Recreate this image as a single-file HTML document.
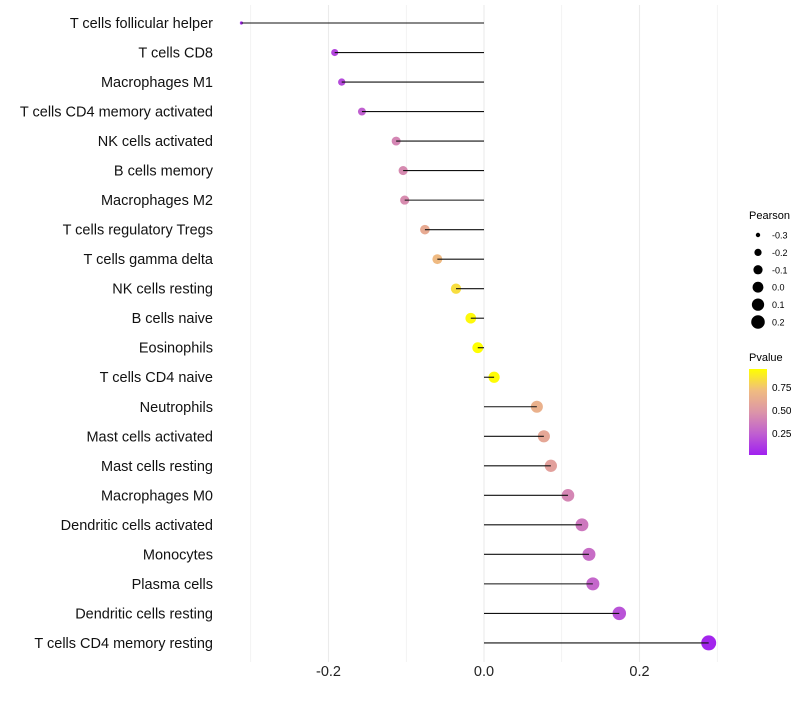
<!DOCTYPE html>
<html><head><meta charset="utf-8"><style>
body{margin:0;background:#fff;font-family:"Liberation Sans",Arial,sans-serif}
</style></head><body>
<svg id="chart" width="800" height="700" xmlns="http://www.w3.org/2000/svg">
<defs><linearGradient id="pg" x1="0" y1="1" x2="0" y2="0">
<stop offset="0" stop-color="#A020F0"/><stop offset="0.25" stop-color="#C060D0"/><stop offset="0.5" stop-color="#DC95A8"/><stop offset="0.75" stop-color="#F0BC80"/><stop offset="1" stop-color="#FFFF00"/></linearGradient></defs>
<g id="grid"></g><g id="dots"></g><g id="marks"></g><g id="labels"></g>
<g font-size="10">
<text x="749" y="219" font-size="11">Pearson</text>
<g id="sizeleg"></g>
</g>
<g font-size="10">
<text x="749" y="361" font-size="11">Pvalue</text>
<rect x="749" y="369" width="18" height="86" fill="url(#pg)"/>
<text x="772" y="391">0.75</text><text x="772" y="414">0.50</text><text x="772" y="437">0.25</text>
</g>
</svg>
<script>
const categories=["T cells follicular helper","T cells CD8","Macrophages M1","T cells CD4 memory activated","NK cells activated","B cells memory","Macrophages M2","T cells regulatory  Tregs ","T cells gamma delta","NK cells resting","B cells naive","Eosinophils","T cells CD4 naive","Neutrophils","Mast cells activated","Mast cells resting","Macrophages M0","Dendritic cells activated","Monocytes","Plasma cells","Dendritic cells resting","T cells CD4 memory resting"];
const pearson=[-0.312,-0.192,-0.183,-0.157,-0.113,-0.104,-0.102,-0.076,-0.060,-0.036,-0.017,-0.008,0.013,0.068,0.077,0.086,0.108,0.126,0.135,0.140,0.174,0.289];
const pvalue=[0.05,0.15,0.17,0.25,0.42,0.44,0.45,0.62,0.72,0.85,0.95,0.98,0.96,0.66,0.60,0.56,0.42,0.36,0.31,0.28,0.20,0.03];
const xTicks=[-0.2,0,0.2];
const xTickLabels=["-0.2","0.0","0.2"];
const sizeLegendVals=[-0.3,-0.2,-0.1,0.0,0.1,0.2];
const NS="http://www.w3.org/2000/svg";
const x=v=>484+v*777.5;
const y=i=>23+i*29.52;
const r=v=>Math.sqrt(Math.max(2.5,30+90*v));
const rl=v=>Math.sqrt(Math.max(1,24.4+68*v));
const stops=[[0,[160,32,240]],[0.25,[192,96,208]],[0.5,[220,149,168]],[0.75,[240,188,128]],[1,[255,255,0]]];
function col(p){p=(p-0.01)/0.96;p=Math.max(0,Math.min(1,p));for(let k=1;k<stops.length;k++){if(p<=stops[k][0]){const a=stops[k-1],b=stops[k],t=(p-a[0])/(b[0]-a[0]);return"rgb("+a[1].map((c,j)=>Math.round(c+(b[1][j]-c)*t)).join(",")+")";}}return"rgb(255,255,0)";}
function mk(t,a,parent){const e=document.createElementNS(NS,t);for(const k in a)e.setAttribute(k,a[k]);parent.appendChild(e);return e;}
const grid=document.getElementById('grid');
for(let v=-0.3;v<=0.31;v+=0.1){const g=mk('line',{x1:x(v),x2:x(v),y1:5,y2:662,stroke:'#ebebeb','stroke-width':Math.abs(Math.round(v*10))%2===0?1.1:0.6},grid);

}
xTicks.forEach((v,i)=>{const t=mk('text',{x:x(v),y:676,'text-anchor':'middle','font-size':14.5,fill:'#222'},grid);t.textContent=xTickLabels[i];

});
const marks=document.getElementById('marks'),dots=document.getElementById('dots'),labels=document.getElementById('labels');
categories.forEach((c,i)=>{
const d=mk('circle',{cx:x(pearson[i]),cy:y(i),r:r(pearson[i]),fill:col(pvalue[i])},dots);


const l=mk('line',{x1:x(0),x2:x(pearson[i]),y1:y(i),y2:y(i),stroke:'#111','stroke-width':1.1},marks);


const t=mk('text',{x:213,y:y(i)+5,'text-anchor':'end','font-size':14.5,fill:'#111','xml:space':'preserve'},labels);t.textContent=c;

});
const sl=document.getElementById('sizeleg');
sizeLegendVals.forEach((v,i)=>{const cy=235+i*17.4;
const c=mk('circle',{cx:758,cy:cy,r:rl(v)*1.1,fill:'#000'},sl);


const t=mk('text',{x:772,y:cy+3.5,'font-size':9},sl);t.textContent=v.toFixed(1);

});
</script>
</body></html>
